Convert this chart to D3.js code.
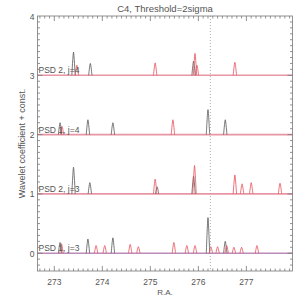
<!DOCTYPE html>
<html>
<head>
<meta charset="utf-8">
<script src="https://cdn.jsdelivr.net/npm/d3@7"></script>
<style>
body { margin: 0; background: #fff; }
text { font-family: "Liberation Sans", "DejaVu Sans", sans-serif; fill: #555; }
</style>
</head>
<body>
<div id="idContent"></div>
<script>
// panel labels and their constant offsets
var aLabels = ["PSD 2, j=4", "PSD 1, j=4", "PSD 2, j=3", "PSD 1, j=3"];
var aOffsets = [3, 2, 1, 0];

// black peaks (R.A., coefficient)
var aBlackRA = [
	[273.40, 273.75, 275.90],
	[273.12, 273.70, 274.22, 276.20, 276.56],
	[273.40, 273.74, 275.14, 275.90],
	[273.12, 273.70, 274.22, 276.20, 276.56]
];
var aBlackVal = [
	[0.39, 0.20, 0.24],
	[0.20, 0.25, 0.20, 0.42, 0.25],
	[0.45, 0.19, 0.12, 0.30],
	[0.18, 0.24, 0.26, 0.60, 0.20]
];

// red peaks (R.A., coefficient)
var aRedRA = [
	[273.47, 275.10, 275.93, 275.97, 276.76],
	[273.16, 275.47],
	[275.10, 275.92, 276.76, 276.91, 277.10, 277.70],
	[273.15, 273.87, 274.05, 274.58, 274.75, 275.49, 275.76, 275.93, 276.26, 276.40, 276.59, 276.74, 276.90, 277.22]
];
var aRedVal = [
	[0.17, 0.21, 0.37, 0.17, 0.22],
	[0.14, 0.25],
	[0.25, 0.48, 0.32, 0.17, 0.19, 0.18],
	[0.16, 0.13, 0.13, 0.15, 0.11, 0.18, 0.13, 0.13, 0.11, 0.11, 0.13, 0.10, 0.10, 0.13]
];

var nMarkerRA = 276.25;
var aXTicks = [273, 274, 275, 276, 277];
var aYTicks = [0, 1, 2, 3, 4];

var margin = { top: 16, right: 12.5, bottom: 34, left: 37.5 },
	width = 305 - margin.left - margin.right,
	height = 305 - margin.top - margin.bottom;

var x = d3.scaleLinear().domain([272.65, 277.96]).range([0, width]);
var y = d3.scaleLinear().domain([-0.3, 4]).range([height, 0]);

var svg = d3.select("#idContent").append("svg")
	.attr("width", 305)
	.attr("height", 305);

svg.append("text")
	.attr("x", margin.left + width / 2)
	.attr("y", 12)
	.attr("text-anchor", "middle")
	.style("font-size", "9.5px")
	.text("C4, Threshold=2sigma");

var oChart = svg.append("g")
	.attr("transform", "translate(" + margin.left + "," + margin.top + ")");

// baselines
aOffsets.forEach(function (off, i) {
	oChart.append("line")
		.attr("x1", 0).attr("x2", width)
		.attr("y1", y(off)).attr("y2", y(off))
		.attr("stroke", i == 3 ? "#bc8cb8" : "#e896a4")
		.attr("stroke-width", 1.6);
});

var hw = 0.035;
var line = d3.line()
	.x(function (d) { return x(d[0]); })
	.y(function (d) { return y(d[1]); })
	.curve(d3.curveCardinal.tension(0.2));

function drawPeaks(aRA, aVal, sColor) {
	aRA.forEach(function (list, i) {
		var off = aOffsets[i];
		list.forEach(function (ra, k) {
			var pts = [[ra - hw, off], [ra, off + aVal[i][k]], [ra + hw, off]];
			oChart.append("path")
				.attr("d", line(pts))
				.attr("fill", "none")
				.attr("stroke", sColor)
				.attr("stroke-width", 0.8);
		});
	});
}
drawPeaks(aBlackRA, aBlackVal, "#555");
drawPeaks(aRedRA, aRedVal, "#e4505a");

// dotted marker
oChart.append("line")
	.attr("x1", x(nMarkerRA)).attr("x2", x(nMarkerRA))
	.attr("y1", 0).attr("y2", height)
	.attr("stroke", "#999")
	.attr("stroke-width", 0.8)
	.attr("stroke-dasharray", "1,2");

// panel labels
aLabels.forEach(function (s, i) {
	oChart.append("text")
		.attr("x", 1)
		.attr("y", y(aOffsets[i]) - 2)
		.style("font-size", "8.5px")
		.text(s);
});

// frame
oChart.append("rect")
	.attr("width", width).attr("height", height)
	.attr("fill", "none")
	.attr("stroke", "#777")
	.attr("stroke-width", 0.8);

// ticks, pointing inward on all four sides
var xMinor = d3.range(272.7, 277.96, 0.1).map(function (v) { return Math.round(v * 10) / 10; });
var yMinor = d3.range(-0.2, 4.0, 0.1).map(function (v) { return Math.round(v * 10) / 10; });

function tickLen(v) { return Math.abs(v - Math.round(v)) < 1e-6 ? 5 : 2.5; }

var gTicks = oChart.append("g").attr("stroke", "#777").attr("stroke-width", 0.8);
xMinor.forEach(function (v) {
	var L = tickLen(v);
	gTicks.append("line").attr("x1", x(v)).attr("x2", x(v)).attr("y1", height).attr("y2", height - L);
	gTicks.append("line").attr("x1", x(v)).attr("x2", x(v)).attr("y1", 0).attr("y2", L);
});
yMinor.forEach(function (v) {
	var L = tickLen(v);
	gTicks.append("line").attr("y1", y(v)).attr("y2", y(v)).attr("x1", 0).attr("x2", L);
	gTicks.append("line").attr("y1", y(v)).attr("y2", y(v)).attr("x1", width).attr("x2", width - L);
});

// tick labels
aXTicks.forEach(function (v) {
	oChart.append("text")
		.attr("x", x(v)).attr("y", height + 14)
		.attr("text-anchor", "middle")
		.style("font-size", "8.5px")
		.text(v);
});
aYTicks.forEach(function (v) {
	oChart.append("text")
		.attr("x", -3).attr("y", y(v) + 3.5)
		.attr("text-anchor", "end")
		.style("font-size", "8.5px")
		.text(v);
});

// axis titles
oChart.append("text")
	.attr("x", width / 2).attr("y", height + 24)
	.attr("text-anchor", "middle")
	.style("font-size", "8px")
	.text("R.A.");

oChart.append("text")
	.attr("transform", "translate(-13," + (height / 2) + ") rotate(-90)")
	.attr("text-anchor", "middle")
	.style("font-size", "9px")
	.text("Wavelet coefficient + const.");
</script>
</body>
</html>
